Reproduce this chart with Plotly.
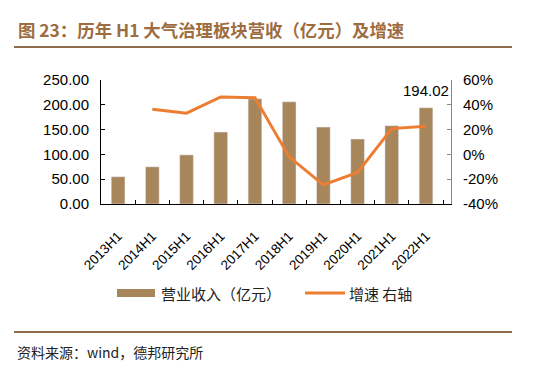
import plotly.graph_objects as go

categories = ["2013H1", "2014H1", "2015H1", "2016H1", "2017H1",
              "2018H1", "2019H1", "2020H1", "2021H1", "2022H1"]
revenue = [55, 75, 99, 145, 212, 206, 155, 131, 158, 194.02]
growth = [None, 36.4, 33.2, 46.3, 45.7, -2.0, -24.6, -14.5, 20.8, 22.8]
left_ticks = [0, 50, 100, 150, 200, 250]
right_ticks = [-40, -20, 0, 20, 40, 60]
right_labels = [f"{v}%" for v in right_ticks]

OFF = 8  # browser body margin
W, H = 537 - 2 * OFF, 381 - 2 * OFF
L, R, T, B = 101 - OFF, 451 - OFF, 80 - OFF, 204 - OFF

def px(x):
    return (x - OFF - L) / (R - L)

def py(y):
    return (B - (y - OFF)) / (B - T)

BAR = "#A8865C"
LINE = "#ED7D31"
BROWN = "#8C6A4C"
TITLE = "#9E6D3F"
CJK = "Noto Sans CJK SC"
LAT = "Liberation Sans, Arial"

fig = go.Figure()
fig.add_trace(go.Bar(x=categories, y=revenue, marker_color=BAR,
                     name="营业收入（亿元）", yaxis="y"))
fig.add_trace(go.Scatter(x=categories, y=growth, mode="lines",
                         line=dict(color=LINE, width=3), name="增速 右轴",
                         yaxis="y2", connectgaps=False))

fig.add_annotation(x=categories[-1], y=revenue[-1], yref="y",
                   text=f"{revenue[-1]:.2f}", showarrow=False,
                   yanchor="bottom", yshift=7,
                   font=dict(family=LAT, size=15, color="#000"))

fig.update_layout(
    width=W, height=H,
    margin=dict(l=L, r=W - R, t=T, b=H - B, pad=0),
    paper_bgcolor="white", plot_bgcolor="white",
    showlegend=False, bargap=0.6,
    xaxis=dict(showline=True, linecolor="#000", linewidth=1,
               ticks="inside", ticklen=4, tickcolor="#000",
               tickson="boundaries", tickangle=-45,
               tickfont=dict(family=LAT, size=13.5, color="#000"),
               showgrid=False, zeroline=False, ticklabelstandoff=18),
    yaxis=dict(range=[0, 250], tickmode="array", tickvals=left_ticks,
               tickformat=".2f", showline=True, linecolor="#000",
               linewidth=1, ticks="inside", ticklen=4, tickcolor="#000",
               tickfont=dict(family=LAT, size=15, color="#000"),
               showgrid=False, zeroline=False, ticklabelstandoff=8),
    yaxis2=dict(range=[-40, 60], tickmode="array", tickvals=right_ticks,
                ticktext=right_labels,
                overlaying="y", side="right", showline=True,
                linecolor="#888", linewidth=1, ticks="inside",
                ticklen=4, tickcolor="#888",
                tickfont=dict(family=LAT, size=15, color="#000"),
                showgrid=False, zeroline=False, ticklabelstandoff=8),
)

shapes = [
    dict(type="line", xref="paper", yref="paper",
         x0=px(14), x1=px(512), y0=py(47), y1=py(47),
         line=dict(color=BROWN, width=2)),
    dict(type="line", xref="paper", yref="paper",
         x0=px(14), x1=px(512), y0=py(332), y1=py(332),
         line=dict(color=BROWN, width=2)),
    dict(type="rect", xref="paper", yref="paper",
         x0=px(117), x1=px(155), y0=py(297), y1=py(289),
         fillcolor=BAR, line=dict(width=0)),
    dict(type="line", xref="paper", yref="paper",
         x0=px(305), x1=px(345), y0=py(293), y1=py(293),
         line=dict(color=LINE, width=3)),
]
fig.update_layout(shapes=shapes)

fig.add_annotation(xref="paper", yref="paper", x=px(16), y=py(30),
                   xanchor="left", yanchor="middle", showarrow=False,
                   text="<b>图 23：历年 H1 大气治理板块营收（亿元）及增速</b>",
                   font=dict(family=CJK, size=17.4, color=TITLE))
fig.add_annotation(xref="paper", yref="paper", x=px(159), y=py(293),
                   xanchor="left", yanchor="middle", showarrow=False,
                   text="营业收入（亿元）",
                   font=dict(family=CJK, size=15, color="#222"))
fig.add_annotation(xref="paper", yref="paper", x=px(347), y=py(293),
                   xanchor="left", yanchor="middle", showarrow=False,
                   text="增速 右轴",
                   font=dict(family=CJK, size=15, color="#222"))
fig.add_annotation(xref="paper", yref="paper", x=px(15), y=py(352),
                   xanchor="left", yanchor="middle", showarrow=False,
                   text="资料来源：wind，德邦研究所",
                   font=dict(family=CJK, size=14, color="#222"))

fig.write_html("out.html")
